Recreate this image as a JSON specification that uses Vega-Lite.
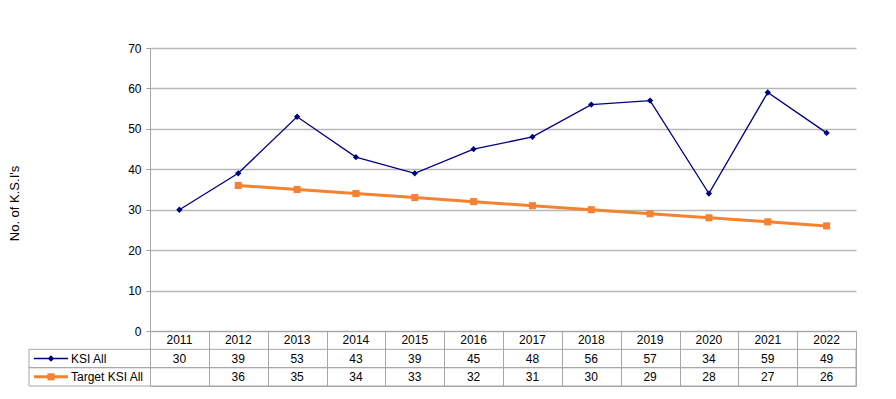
{
  "$schema": "https://vega.github.io/schema/vega-lite/v6.json",
  "padding": {"left": 8, "top": 42, "right": 0, "bottom": 0},
  "bounds": "flush",
  "spacing": 0,
  "config": {
    "font": "Liberation Sans",
    "view": {"stroke": null},
    "text": {"font": "Liberation Sans", "fontSize": 12, "color": "black"}
  },
  "datasets": {
    "ksi": [
      {"year": 2011, "KSI All": 30, "Target KSI All": null},
      {"year": 2012, "KSI All": 39, "Target KSI All": 36},
      {"year": 2013, "KSI All": 53, "Target KSI All": 35},
      {"year": 2014, "KSI All": 43, "Target KSI All": 34},
      {"year": 2015, "KSI All": 39, "Target KSI All": 33},
      {"year": 2016, "KSI All": 45, "Target KSI All": 32},
      {"year": 2017, "KSI All": 48, "Target KSI All": 31},
      {"year": 2018, "KSI All": 56, "Target KSI All": 30},
      {"year": 2019, "KSI All": 57, "Target KSI All": 29},
      {"year": 2020, "KSI All": 34, "Target KSI All": 28},
      {"year": 2021, "KSI All": 59, "Target KSI All": 27},
      {"year": 2022, "KSI All": 49, "Target KSI All": 26}
    ],
    "series": [{"series": "KSI All"}, {"series": "Target KSI All"}]
  },
  "vconcat": [
    {
      "width": 706,
      "height": 283,
      "data": {"name": "ksi"},
      "transform": [
        {"fold": ["KSI All", "Target KSI All"], "as": ["series", "value"]},
        {"filter": "isValid(datum.value)"}
      ],
      "encoding": {
        "x": {"field": "year", "type": "quantitative", "scale": {"domain": [2010.5, 2022.5], "nice": false, "zero": false}, "axis": null},
        "y": {
          "field": "value", "type": "quantitative",
          "scale": {"domain": [0, 70], "nice": false},
          "axis": {
            "title": "No. of K.S.I's", "titleFontSize": 13, "titleFontWeight": "normal", "titleColor": "black",
            "titlePadding": 106, "titleY": 155, "labelFontSize": 12, "labelColor": "black", "labelPadding": 5,
            "tickSize": 4, "tickColor": "#a0a0a0", "domainColor": "#a6a6a6", "gridColor": "#b8b8b8", "gridWidth": 1.3,
            "values": [0, 10, 20, 30, 40, 50, 60, 70]
          }
        },
        "color": {"field": "series", "type": "nominal", "scale": {"domain": ["KSI All", "Target KSI All"], "range": ["#000080", "#f58231"]}, "legend": null}
      },
      "layer": [
        {
          "mark": {"type": "line", "clip": false},
          "encoding": {
            "strokeWidth": {"field": "series", "type": "nominal", "scale": {"domain": ["KSI All", "Target KSI All"], "range": [1.3, 3]}, "legend": null}
          }
        },
        {
          "mark": {"type": "point", "filled": true, "opacity": 1},
          "encoding": {
            "shape": {"field": "series", "type": "nominal", "scale": {"domain": ["KSI All", "Target KSI All"], "range": ["diamond", "square"]}, "legend": null},
            "size": {"field": "series", "type": "nominal", "scale": {"domain": ["KSI All", "Target KSI All"], "range": [40, 50]}, "legend": null}
          }
        }
      ]
    },
    {
      "width": 706,
      "height": 55,
      "view": {"stroke": "#a6a6a6"},
      "layer": [
        {
          "data": {"name": "series"},
          "mark": {"type": "rect", "fill": null, "filled": false, "stroke": "#a6a6a6", "strokeWidth": 1, "clip": false},
          "encoding": {
            "x": {"datum": 2008.443, "type": "quantitative", "scale": {"domain": [2010.5, 2022.5], "nice": false, "zero": false},
              "axis": {"orient": "top", "values": [2011.5, 2012.5, 2013.5, 2014.5, 2015.5, 2016.5, 2017.5, 2018.5, 2019.5, 2020.5, 2021.5], "grid": true, "gridColor": "#a6a6a6", "gridWidth": 1, "labels": false, "ticks": false, "domain": false, "title": null}},
            "x2": {"datum": 2022.5},
            "y": {"field": "series", "type": "nominal", "scale": {"type": "band", "domain": ["Year", "KSI All", "Target KSI All"], "paddingInner": 0, "paddingOuter": 0}, "axis": null}
          }
        },
        {
          "data": {"name": "ksi"},
          "mark": {"type": "text", "baseline": "middle", "align": "center"},
          "encoding": {
            "x": {"field": "year", "type": "quantitative"},
            "y": {"datum": "Year", "type": "nominal"},
            "text": {"field": "year", "type": "quantitative", "format": "d"}
          }
        },
        {
          "data": {"name": "ksi"},
          "transform": [
            {"fold": ["KSI All", "Target KSI All"], "as": ["series", "value"]},
            {"filter": "isValid(datum.value)"}
          ],
          "mark": {"type": "text", "baseline": "middle", "align": "center"},
          "encoding": {
            "x": {"field": "year", "type": "quantitative"},
            "y": {"field": "series", "type": "nominal"},
            "text": {"field": "value", "type": "quantitative", "format": "d"}
          }
        },
        {
          "data": {"name": "series"},
          "mark": {"type": "rule", "clip": false},
          "encoding": {
            "x": {"datum": 2008.528},
            "x2": {"datum": 2009.106},
            "y": {"field": "series", "type": "nominal"},
            "color": {"field": "series", "type": "nominal", "scale": {"domain": ["KSI All", "Target KSI All"], "range": ["#000080", "#f58231"]}, "legend": null},
            "strokeWidth": {"field": "series", "type": "nominal", "scale": {"domain": ["KSI All", "Target KSI All"], "range": [1.3, 3]}, "legend": null}
          }
        },
        {
          "data": {"name": "series"},
          "mark": {"type": "point", "filled": true, "opacity": 1, "clip": false},
          "encoding": {
            "x": {"datum": 2008.817},
            "y": {"field": "series", "type": "nominal"},
            "color": {"field": "series", "type": "nominal", "legend": null},
            "shape": {"field": "series", "type": "nominal", "scale": {"domain": ["KSI All", "Target KSI All"], "range": ["diamond", "square"]}, "legend": null},
            "size": {"field": "series", "type": "nominal", "scale": {"domain": ["KSI All", "Target KSI All"], "range": [40, 50]}, "legend": null}
          }
        },
        {
          "data": {"name": "series"},
          "mark": {"type": "text", "baseline": "middle", "align": "left", "clip": false},
          "encoding": {
            "x": {"datum": 2009.157},
            "y": {"field": "series", "type": "nominal"},
            "text": {"field": "series", "type": "nominal"}
          }
        }
      ]
    }
  ]
}
